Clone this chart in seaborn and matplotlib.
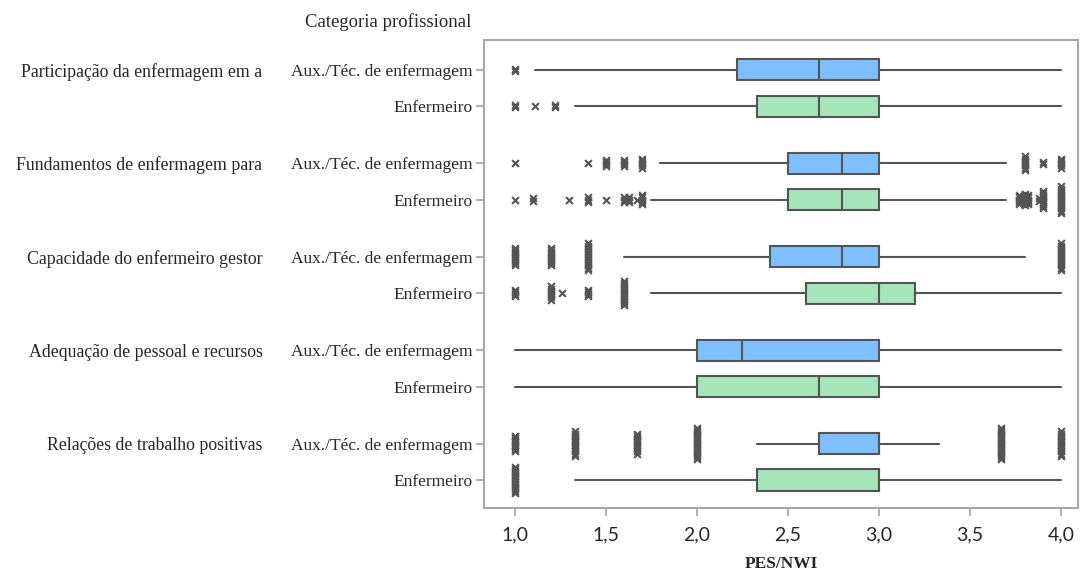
import matplotlib
matplotlib.use("Agg")
import matplotlib.pyplot as plt
import matplotlib.transforms as mtrans
import numpy as np
import pandas as pd
import seaborn as sns

# grupos (dimensões) e categorias profissionais
groups = ["Participação da enfermagem em a", "Fundamentos de enfermagem para",
          "Capacidade do enfermeiro gestor", "Adequação de pessoal e recursos",
          "Relações de trabalho positivas"]
categories = ["Aux./Téc. de enfermagem", "Enfermeiro"]

# estatísticas das caixas, na ordem: grupo 1 Aux, grupo 1 Enf, grupo 2 Aux, ...
whislo = [1.11, 1.33, 1.80, 1.75, 1.60, 1.75, 1.00, 1.00, 2.33, 1.33]
q1 = [2.22, 2.33, 2.50, 2.50, 2.40, 2.60, 2.00, 2.00, 2.67, 2.33]
med = [2.67, 2.67, 2.80, 2.80, 2.80, 3.00, 2.25, 2.67, 3.00, 3.00]
q3 = [3.00, 3.00, 3.00, 3.00, 3.00, 3.20, 3.00, 3.00, 3.00, 3.00]
whishi = [4.00, 4.00, 3.70, 3.70, 3.80, 4.00, 4.00, 4.00, 3.33, 4.00]

# outliers: valor e número de observações empatadas
out_values = [
    [1.00],
    [1.00, 1.11, 1.22],
    [1.00, 1.40, 1.50, 1.60, 1.70, 3.80, 3.90, 4.00],
    [1.00, 1.10, 1.30, 1.40, 1.50, 1.60, 1.63, 1.67, 1.70, 3.77, 3.80, 3.82, 3.88, 3.90, 4.00],
    [1.00, 1.20, 1.40, 4.00],
    [1.00, 1.20, 1.26, 1.40, 1.60],
    [],
    [],
    [1.00, 1.33, 1.67, 2.00, 3.67, 4.00],
    [1.00],
]
out_counts = [
    [2],
    [2, 1, 2],
    [1, 1, 4, 4, 5, 7, 2, 5],
    [1, 2, 1, 3, 1, 3, 3, 1, 5, 5, 6, 5, 2, 9, 13],
    [9, 9, 13, 13],
    [4, 7, 1, 4, 12],
    [],
    [],
    [8, 12, 10, 15, 15, 12],
    [13],
]

colors = ["#80bfff", "#a6e4ba"]
edge = "#545454"

sns.set_style("white")
plt.rcParams["font.family"] = ["Liberation Serif", "DejaVu Serif"]

fig = plt.figure(figsize=(10.8, 5.76), dpi=100)
ax = fig.add_axes([0.448, 0.118, 0.550, 0.813])

pair_gap = 0.39
positions = []
for g in range(len(groups)):
    for k in range(len(categories)):
        positions.append(g + k * pair_gap)

stats = []
for i in range(len(positions)):
    stats.append(dict(whislo=whislo[i], q1=q1[i], med=med[i], q3=q3[i],
                      whishi=whishi[i], fliers=[]))

bp = ax.bxp(stats, positions=positions, vert=False, widths=0.225,
            showcaps=False, showfliers=False, patch_artist=True,
            boxprops=dict(edgecolor=edge, linewidth=1.5),
            whiskerprops=dict(color=edge, linewidth=1.5),
            medianprops=dict(color=edge, linewidth=1.5))
for i, box in enumerate(bp["boxes"]):
    box.set_facecolor(colors[i % 2])
    box.set_zorder(3)
for m in bp["medians"]:
    m.set_zorder(4)

# outliers empilhados verticalmente, como no SPSS
step = 0.0237
rows = []
for i, pos in enumerate(positions):
    for v, n in zip(out_values[i], out_counts[i]):
        offs = (np.arange(n) - (n - 1) / 2) * step
        for o in offs:
            rows.append({"x": v, "y": pos + o})
df_out = pd.DataFrame(rows)
sns.scatterplot(data=df_out, x="x", y="y", ax=ax, marker="x", color=edge,
                s=24, linewidth=1.5, zorder=5, legend=False)

ax.set_xlim(0.83, 4.093)
ax.set_ylim(4.69, -0.32)

ax.set_xticks([1.0, 1.5, 2.0, 2.5, 3.0, 3.5, 4.0])
ax.set_xticklabels(["1,0", "1,5", "2,0", "2,5", "3,0", "3,5", "4,0"],
                   family=["Lato", "DejaVu Sans"], fontsize=14)
ax.set_yticks(positions)
ax.set_yticklabels(categories * len(groups), fontsize=12.5)

ax.tick_params(axis="both", which="both", direction="out", color="#a8a8a8",
               length=6, width=1.3, left=True, bottom=True)
ax.tick_params(axis="y", pad=2)
ax.tick_params(axis="x", pad=7)
for s in ax.spines.values():
    s.set_color("#a8a8a8")
    s.set_linewidth(1.5)

ax.set_xlabel("PES/NWI", fontsize=12.5, fontweight="bold", labelpad=9)
ax.set_ylabel("")

trans = mtrans.blended_transform_factory(fig.transFigure, ax.transData)
for g, name in enumerate(groups):
    ax.text(0.243, g, name, transform=trans, ha="right", va="center_baseline",
            fontsize=12.8, clip_on=False)

fig.text(0.436, 0.962, "Categoria profissional", ha="right", va="center",
         fontsize=13.5)

fig.savefig("out.png", dpi=100)
